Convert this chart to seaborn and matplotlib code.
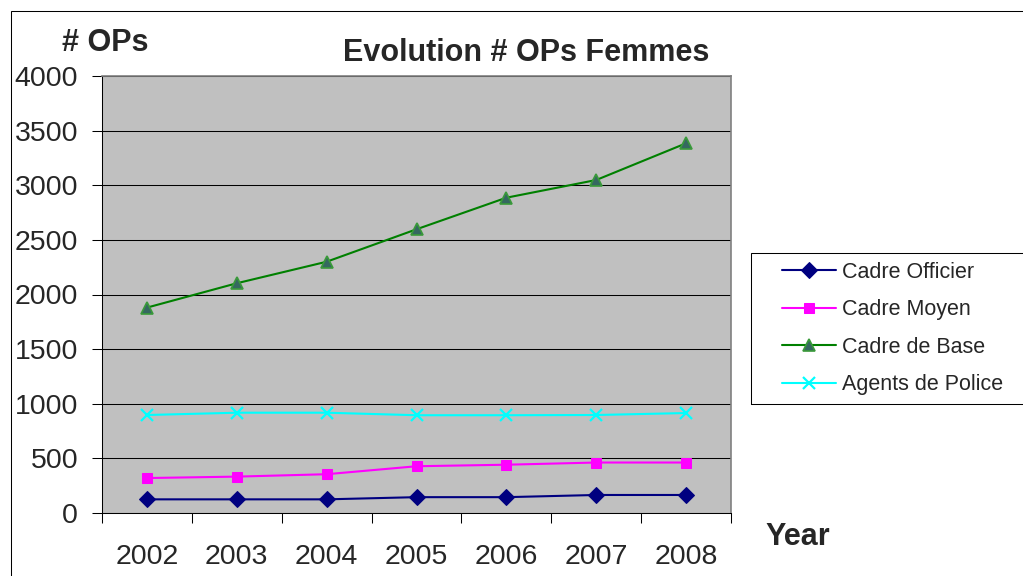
import numpy as np
import seaborn as sns
import matplotlib.pyplot as plt
from matplotlib.patches import Rectangle

# data
years = ['2002', '2003', '2004', '2005', '2006', '2007', '2008']
cadre_officier = [125, 125, 125, 145, 145, 165, 165]
cadre_moyen = [320, 333, 355, 428, 442, 462, 462]
cadre_base = [1880, 2103, 2300, 2597, 2886, 3048, 3384]
agents_police = [897, 918, 918, 895, 895, 897, 915]
y_ticks = [0, 500, 1000, 1500, 2000, 2500, 3000, 3500, 4000]

sns.set_style("ticks")
plt.rcParams['font.family'] = ['Liberation Sans', 'DejaVu Sans']

fig = plt.figure(figsize=(10.23, 5.76), dpi=100)
ax = fig.add_axes([102 / 1023, 1 - 513 / 576, 629 / 1023, 437 / 576])
ax.set_facecolor('#C0C0C0')

pos = np.arange(len(years))

# one call per series, Excel style markers
sns.lineplot(x=pos, y=cadre_officier, ax=ax, color='#000080', linewidth=1.5,
             marker='D', markersize=8.5, markerfacecolor='#000080',
             markeredgecolor='#000080', markeredgewidth=0.75, label='Cadre Officier')
sns.lineplot(x=pos, y=cadre_moyen, ax=ax, color='#FF00FF', linewidth=1.5,
             marker='s', markersize=7.5, markerfacecolor='#FF00FF',
             markeredgecolor='#FF00FF', markeredgewidth=0.75, label='Cadre Moyen')
sns.lineplot(x=pos, y=cadre_base, ax=ax, color='#008000', linewidth=1.5,
             marker='^', markersize=8.5, markerfacecolor='#356860',
             markeredgecolor='#3A9A3A', markeredgewidth=1.2, label='Cadre de Base')
sns.lineplot(x=pos, y=agents_police, ax=ax, color='#00FFFF', linewidth=1.5,
             marker='x', markersize=8.5, markeredgecolor='#00FFFF',
             markeredgewidth=1.6, label='Agents de Police')

# axes
ax.set_xlim(-0.5, len(years) - 0.5)
ax.set_ylim(0, 4000)
ax.set_yticks(y_ticks)
ax.set_xticks(pos)
ax.set_xticklabels(years)
ax.set_xticks(np.arange(-0.5, len(years), 1), minor=True)
ax.tick_params(axis='x', which='major', length=0, pad=22, labelsize=20.5)
ax.tick_params(axis='x', which='minor', length=7.2, width=0.75, color='black', direction='out')
ax.tick_params(axis='y', length=7.2, width=0.75, color='black', direction='out', pad=10, labelsize=20.5)
ax.set_xlabel('')
ax.set_ylabel('')

ax.grid(axis='y', color='black', linewidth=0.75)
ax.set_axisbelow(True)
for side in ['left', 'bottom']:
    ax.spines[side].set_color('black')
    ax.spines[side].set_linewidth(0.75)
for side in ['top', 'right']:
    ax.spines[side].set_visible(True)
    ax.spines[side].set_color('#808080')
    ax.spines[side].set_linewidth(1.2)

# legend, boxed separately so it runs off the right edge like the original
leg = ax.legend(loc='upper left', bbox_to_anchor=(782 / 1023, 1 - 262 / 576),
                bbox_transform=fig.transFigure, frameon=False, fontsize=15.5,
                borderpad=0, borderaxespad=0, handlelength=2.5, handletextpad=0.3,
                labelspacing=0.76)
fig.patches.append(Rectangle((751 / 1023, 1 - 404 / 576), 0.5, 151 / 576,
                             transform=fig.transFigure, fill=False,
                             edgecolor='black', linewidth=0.75))

# outer chart frame
fig.patches.append(Rectangle((11 / 1023, -0.2), 1.2, 1.2 - 11 / 576,
                             transform=fig.transFigure, fill=False,
                             edgecolor='black', linewidth=0.75))

fig.text(526 / 1023, 1 - 61 / 576, 'Evolution # OPs Femmes', ha='center',
         va='baseline', fontsize=22, fontweight='bold')
fig.text(62 / 1023, 1 - 51 / 576, '# OPs', ha='left', va='baseline',
         fontsize=22, fontweight='bold')
fig.text(765 / 1023, 1 - 545 / 576, 'Year', ha='left', va='baseline',
         fontsize=22, fontweight='bold')

fig.savefig('out.png', dpi=100)
